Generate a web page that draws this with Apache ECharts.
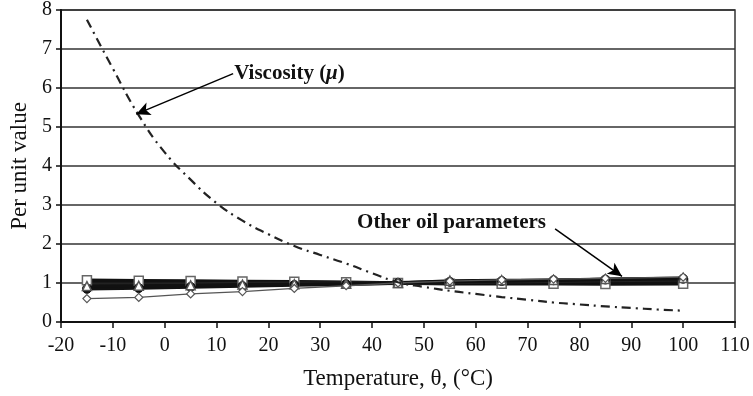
<!DOCTYPE html>
<html>
<head>
<meta charset="utf-8">
<script src="https://cdn.jsdelivr.net/npm/echarts@6/dist/echarts.min.js"></script>
<style>html,body{margin:0;padding:0;background:#fff}#c{width:753px;height:396px}</style>
</head>
<body>
<div id="c"></div>
<script>
// Viscosity curve (temperature, per-unit value)
const viscTemps = [-15,-10,-5,0,5,10,15,20,25,30,35,40,45,50,55,60,65,70,75,80,85,90,95,100];
const viscVals  = [7.75,6.5,5.3,4.35,3.65,3.05,2.6,2.25,1.95,1.72,1.5,1.25,1.02,0.9,0.8,0.72,0.64,0.57,0.5,0.45,0.4,0.36,0.32,0.29];

// Other oil parameters, sampled at these temperatures
const otherTemps = [-15,-5,5,15,25,35,45,55,65,75,85,100];
const paramSquares  = [1.07,1.06,1.05,1.04,1.03,1.02,1.0,0.98,0.98,0.98,0.975,0.98];
const paramLineA    = [1.03,1.02,1.02,1.01,1.01,1.0,1.0,1.01,1.02,1.03,1.04,1.05];
const paramLineB    = [0.96,0.96,0.97,0.98,0.99,0.99,1.0,1.02,1.04,1.05,1.07,1.09];
const paramCircles  = [0.85,0.87,0.9,0.92,0.95,0.97,1.0,1.03,1.05,1.07,1.09,1.11];
const paramTriangles= [0.92,0.93,0.94,0.96,0.97,0.98,1.0,1.06,1.07,1.08,1.1,1.13];
const paramDiamonds = [0.6,0.63,0.72,0.78,0.86,0.93,1.0,1.05,1.08,1.1,1.12,1.15];

// Axis ticks
const xMin = -20, xMax = 110, xStep = 10;
const yMin = 0, yMax = 8, yStep = 1;

// Annotations (data coordinates)
const viscLabelAt = [13.4, 6.37];
const viscArrow = [[13.2, 6.37], [-5.5, 5.33]];
const otherLabelAt = [37.1, 2.54];
const otherArrow = [[75.3, 2.39], [88.2, 1.17]];

const zip = (xs, ys) => xs.map((x, i) => [x, ys[i]]);
const font = '"Liberation Serif", "DejaVu Serif", serif';

const chart = echarts.init(document.getElementById('c'), null, {renderer: 'canvas'});

function paramSeries(name, vals, symbol, opts) {
  return Object.assign({
    name, type: 'line', data: zip(otherTemps, vals),
    symbol, symbolSize: 9, showSymbol: symbol !== 'none',
    lineStyle: {color: '#111', width: 3.5},
    itemStyle: {color: '#fff', borderColor: '#555', borderWidth: 1.5},
    z: 3
  }, opts || {});
}

chart.setOption({
  animation: false,
  backgroundColor: '#fff',
  grid: {left: 61, right: 18, top: 7, bottom: 74, show: true, borderColor: '#333', borderWidth: 1.5, backgroundColor: 'transparent'},
  xAxis: {
    type: 'value', min: xMin, max: xMax, interval: xStep,
    name: 'Temperature, θ, (°C)', nameLocation: 'middle', nameGap: 45,
    nameTextStyle: {fontFamily: font, fontSize: 23, color: '#111'},
    axisLine: {show: true, onZero: false, lineStyle: {color: '#111', width: 2}},
    axisTick: {show: true, inside: false, length: 6, lineStyle: {color: '#111', width: 1.5}},
    axisLabel: {fontFamily: font, fontSize: 20, color: '#111', margin: 14},
    splitLine: {show: false}
  },
  yAxis: {
    type: 'value', min: yMin, max: yMax, interval: yStep,
    name: 'Per unit value', nameLocation: 'middle', nameGap: 28, nameRotate: 90,
    nameTextStyle: {fontFamily: font, fontSize: 23, color: '#111'},
    axisLine: {show: true, onZero: false, lineStyle: {color: '#111', width: 2}},
    axisTick: {show: true, inside: false, length: 5, lineStyle: {color: '#111', width: 1.5}},
    axisLabel: {fontFamily: font, fontSize: 20, color: '#111', margin: 9},
    splitLine: {show: true, lineStyle: {color: '#333', width: 1.5}}
  },
  series: [
    {
      name: 'Viscosity', type: 'line', data: zip(viscTemps, viscVals),
      showSymbol: false, symbol: 'none', smooth: true,
      lineStyle: {color: '#222', width: 2.2, type: [9, 5, 2, 5]},
      z: 4,
      markLine: {
        silent: true, symbol: ['none', 'arrow'], symbolSize: [10, 14],
        label: {show: false},
        lineStyle: {color: '#000', width: 1.5, type: 'solid'},
        data: [
          [{coord: viscArrow[0]}, {coord: viscArrow[1]}],
          [{coord: otherArrow[0]}, {coord: otherArrow[1]}]
        ]
      }
    },
    paramSeries('Squares', paramSquares, 'rect', {itemStyle: {color: '#fff', borderColor: '#666', borderWidth: 1.5}}),
    paramSeries('A', paramLineA, 'none', {lineStyle: {color: '#111', width: 4}}),
    paramSeries('B', paramLineB, 'none', {lineStyle: {color: '#222', width: 4}}),
    paramSeries('Circles', paramCircles, 'circle', {symbolSize: 9, itemStyle: {color: '#111', borderColor: '#111', borderWidth: 1}}),
    paramSeries('Triangles', paramTriangles, 'triangle', {lineStyle: {color: '#111', width: 3}, itemStyle: {color: '#fff', borderColor: '#555', borderWidth: 1.5}}),
    paramSeries('Diamonds', paramDiamonds, 'diamond', {symbolSize: 8, lineStyle: {color: '#555', width: 1.3}, itemStyle: {color: '#fff', borderColor: '#555', borderWidth: 1.2}})
  ]
});

function placeLabels() {
  const p1 = chart.convertToPixel({gridIndex: 0}, viscLabelAt);
  const p2 = chart.convertToPixel({gridIndex: 0}, otherLabelAt);
  chart.setOption({
    graphic: [
      {
        type: 'text', x: p1[0], y: p1[1], z: 10,
        style: {
          text: '{b|Viscosity }{m|(}{i|μ}{m|)}',
          verticalAlign: 'middle', align: 'left',
          rich: {
            b: {fontFamily: font, fontSize: 21, fontWeight: 'bold', fill: '#111'},
            m: {fontFamily: font, fontSize: 21, fontWeight: 'bold', fill: '#111'},
            i: {fontFamily: font, fontSize: 21, fontWeight: 'bold', fontStyle: 'italic', fill: '#111'}
          }
        }
      },
      {
        type: 'text', x: p2[0], y: p2[1], z: 10,
        style: {
          text: 'Other oil parameters', verticalAlign: 'middle', align: 'left',
          fontFamily: font, fontSize: 21, fontWeight: 'bold', fill: '#111'
        }
      }
    ]
  });
}
placeLabels();
</script>
</body>
</html>
